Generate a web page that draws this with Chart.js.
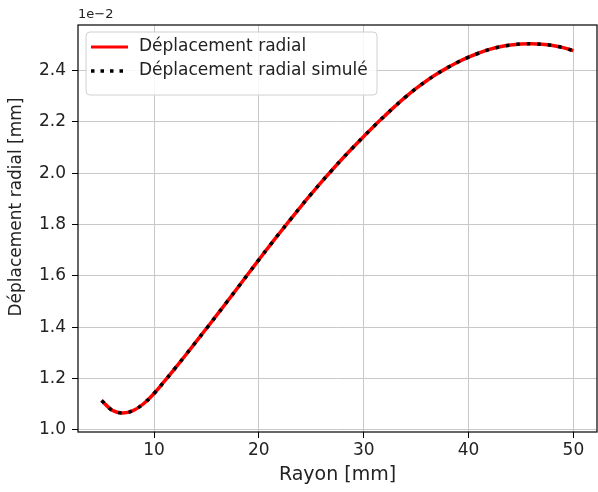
<!DOCTYPE html>
<html>
<head>
<meta charset="utf-8">
<script src="https://cdn.jsdelivr.net/npm/chart.js@4"></script>
<style>
  html, body { margin: 0; padding: 0; background: #fff; }
  #wrap { width: 598px; height: 492px; }
</style>
</head>
<body>
<div id="wrap"><canvas id="dispChart" width="598" height="492"></canvas></div>
<script>
// rayon [mm]
const rayon = [5, 6, 7, 8, 9, 10, 11, 12, 13, 14, 15, 16, 17, 18, 19, 20, 21, 22, 23, 24, 25, 26, 27,
  28, 29, 30, 31, 32, 33, 34, 35, 36, 37, 38, 39, 40, 41, 42, 43, 44, 45, 46, 47, 48, 49, 50];
// déplacement radial [1e-2 mm]
const deplacement = [1.115, 1.077, 1.066, 1.075, 1.102, 1.142, 1.190, 1.240, 1.291, 1.343, 1.395,
  1.448, 1.501, 1.555, 1.609, 1.663, 1.716, 1.768, 1.819, 1.870, 1.919, 1.967, 2.013, 2.058, 2.101,
  2.143, 2.184, 2.223, 2.261, 2.297, 2.330, 2.360, 2.387, 2.411, 2.433, 2.452, 2.468, 2.482, 2.492,
  2.499, 2.503, 2.504, 2.502, 2.497, 2.489, 2.477];
const deplacementSimule = [1.115, 1.077, 1.066, 1.075, 1.102, 1.142, 1.190, 1.240, 1.291, 1.343, 1.395,
  1.448, 1.501, 1.555, 1.609, 1.663, 1.716, 1.768, 1.819, 1.870, 1.919, 1.967, 2.013, 2.058, 2.101,
  2.143, 2.184, 2.223, 2.261, 2.297, 2.330, 2.360, 2.387, 2.411, 2.433, 2.452, 2.468, 2.482, 2.492,
  2.499, 2.503, 2.504, 2.502, 2.497, 2.489, 2.477];
const xTicks = [10, 20, 30, 40, 50];
const yTicks = [1.0, 1.2, 1.4, 1.6, 1.8, 2.0, 2.2, 2.4];
const seriesLabels = ['Déplacement radial', 'Déplacement radial simulé'];
const xTitle = 'Rayon [mm]';
const yTitle = 'Déplacement radial [mm]';
const offsetText = '1e\u22122';

const FONT = 'DejaVu Sans, sans-serif';
const INK = '#222';

const toPoints = ys => rayon.map((x, i) => ({ x, y: ys[i] }));

// cadre, titre Y, 1e-2 et légende façon matplotlib
const mplDecor = {
  id: 'mplDecor',
  afterDraw(chart) {
    const { ctx, chartArea: a } = chart;
    ctx.save();
    ctx.strokeStyle = '#000';
    ctx.lineWidth = 1.2;
    ctx.strokeRect(a.left, a.top, a.right - a.left, a.bottom - a.top);

    ctx.fillStyle = INK;
    ctx.font = '13px ' + FONT;
    ctx.textBaseline = 'middle';
    ctx.textAlign = 'left';
    ctx.fillText(offsetText, a.left, 15);

    // titre de l'axe Y
    ctx.save();
    ctx.translate(17, 207);
    ctx.rotate(-Math.PI / 2);
    ctx.font = '17px ' + FONT;
    ctx.textAlign = 'center';
    ctx.fillText(yTitle, 0, 0);
    ctx.restore();

    // légende
    const lx = a.left + 8, ly = a.top + 7, lw = 291, lh = 63;
    ctx.fillStyle = 'rgba(255,255,255,0.85)';
    ctx.strokeStyle = '#d0d0d0';
    ctx.lineWidth = 1;
    ctx.beginPath();
    ctx.roundRect(lx, ly, lw, lh, 4);
    ctx.fill();
    ctx.stroke();

    const rows = [ly + 15, ly + 39];
    ctx.lineWidth = 3;
    ctx.strokeStyle = 'red';
    ctx.beginPath();
    ctx.moveTo(lx + 5, rows[0]);
    ctx.lineTo(lx + 42, rows[0]);
    ctx.stroke();

    ctx.strokeStyle = '#000';
    ctx.lineWidth = 3.5;
    ctx.setLineDash([3.5, 6]);
    ctx.beginPath();
    ctx.moveTo(lx + 5, rows[1]);
    ctx.lineTo(lx + 42, rows[1]);
    ctx.stroke();
    ctx.setLineDash([]);

    ctx.fillStyle = INK;
    ctx.font = '17px ' + FONT;
    ctx.textBaseline = 'middle';
    ctx.fillText(seriesLabels[0], lx + 53, rows[0]);
    ctx.fillText(seriesLabels[1], lx + 53, rows[1]);
    ctx.restore();
  },
};

const gridConfig = {
  color: '#c8c8c8',
  lineWidth: 1,
  tickLength: 6,
  tickColor: '#000',
};

const scalesConfig = {
  x: {
    type: 'linear',
    min: 2.75,
    max: 52.25,
    afterBuildTicks: scale => {
      scale.ticks = xTicks.map(v => ({ value: v }));
    },
    afterFit: scale => {
      scale.height = 60;
    },
    border: { display: false },
    grid: gridConfig,
    ticks: {
      color: INK,
      font: { family: FONT, size: 17 },
      padding: 2,
      maxRotation: 0,
      callback: v => String(v),
    },
    title: {
      display: true,
      text: xTitle,
      color: INK,
      font: { family: FONT, size: 19 },
      padding: { top: 0, bottom: 6 },
    },
  },
  y: {
    type: 'linear',
    min: 0.992,
    max: 2.577,
    afterBuildTicks: scale => {
      scale.ticks = yTicks.map(v => ({ value: v }));
    },
    afterFit: scale => {
      scale.width = 78;
    },
    border: { display: false },
    grid: gridConfig,
    ticks: {
      color: INK,
      font: { family: FONT, size: 17 },
      padding: 6,
      callback: v => v.toFixed(1),
    },
  },
};

const globalConfig = {
  type: 'line',
  data: {
    datasets: [
      {
        label: seriesLabels[0],
        data: toPoints(deplacement),
        borderColor: 'red',
        borderWidth: 3.5,
        pointRadius: 0,
        tension: 0.4,
        fill: false,
        order: 2,
      },
      {
        label: seriesLabels[1],
        data: toPoints(deplacementSimule),
        borderColor: '#000',
        borderWidth: 3.5,
        borderDash: [3.5, 7],
        borderCapStyle: 'butt',
        pointRadius: 0,
        tension: 0.4,
        fill: false,
        order: 1,
      },
    ],
  },
  options: {
    responsive: false,
    animation: false,
    layout: { padding: { top: 25, right: 1, left: 0, bottom: 0 } },
    scales: scalesConfig,
    plugins: {
      legend: { display: false },
      tooltip: { enabled: false },
    },
  },
  plugins: [mplDecor],
};

new Chart('dispChart', globalConfig);
</script>
</body>
</html>
